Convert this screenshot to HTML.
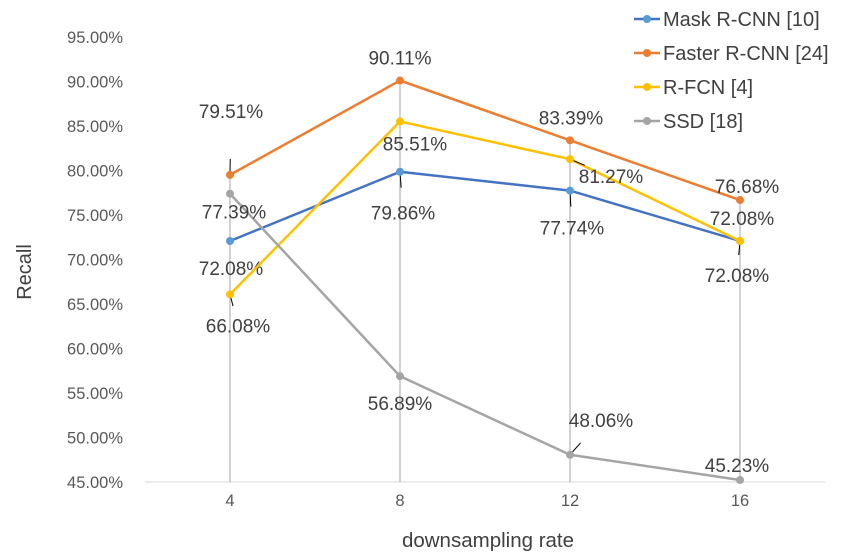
<!DOCTYPE html>
<html><head><meta charset="utf-8"><style>
body{margin:0;background:#fff}
svg{font-family:"Liberation Sans",sans-serif}
</style></head><body>
<svg width="851" height="555" id="c"></svg>
<script>
const categories=["4","8","12","16"];
const yTicks=[45,50,55,60,65,70,75,80,85,90,95];
const seriesNames=["Mask R-CNN [10]","Faster R-CNN [24]","R-FCN [4]","SSD [18]"];
const maskVals=[72.08,79.86,77.74,72.08];
const fasterVals=[79.51,90.11,83.39,76.68];
const rfcnVals=[66.08,85.51,81.27,72.08];
const ssdVals=[77.39,56.89,48.06,45.23];
const colors=["#4472c4","#ed7d31","#ffc000","#a5a5a5"];
const markColors=["#5b9bd5","#ed7d31","#ffc000","#a5a5a5"];
// label offsets (dx,dy) in px relative to points (layout, not data)
const labelOff=[
 [[1,27],[3,41],[2,37],[-3,34]],
 [[1,-64],[0,-23],[1,-23],[7,-14]],
 [[8,31],[15,22],[41,17],[2,-23]],
 [[4,18],[0,27],[31,-35],[-3,-15]]];
const all=[maskVals,fasterVals,rfcnVals,ssdVals];
const svg=document.getElementById('c');const NS="http://www.w3.org/2000/svg";
function el(t,a,p){const e=document.createElementNS(NS,t);for(const k in a)e.setAttribute(k,a[k]);(p||svg).appendChild(e);return e;}
const x0=145,x1=825,yTop=37,yBot=482;
const xs=i=>x0+(x1-x0)*(i+0.5)/categories.length;
const ys=v=>yBot-(v-45)/(95-45)*(yBot-yTop);
let g;
yTicks.forEach(t=>{g=el('text',{x:123,y:ys(t)+6,'text-anchor':'end','font-size':16.5,fill:'#595959'});g.textContent=t.toFixed(2)+'%';

});
let ax=el('line',{x1:x0,x2:x1,y1:yBot,y2:yBot,stroke:'#d9d9d9','stroke-width':1});


categories.forEach((c,i)=>{const t=el('text',{x:xs(i),y:yBot+24,'text-anchor':'middle','font-size':16.5,fill:'#595959'});t.textContent=c;


const mx=Math.max(...all.map(s=>s[i]));
const d=el('line',{x1:xs(i),x2:xs(i),y1:ys(mx),y2:yBot,stroke:'#a5a5a5','stroke-width':1});

});
let xt=el('text',{x:488,y:547,'text-anchor':'middle','font-size':20.5,fill:'#404040'});xt.textContent='downsampling rate';


let yt=el('text',{x:0,y:0,'text-anchor':'middle','font-size':20,fill:'#404040',transform:'translate(31,272) rotate(-90)'});yt.textContent='Recall';


all.forEach((s,k)=>{
const pl=el('polyline',{points:s.map((v,i)=>xs(i)+','+ys(v)).join(' '),fill:'none',stroke:colors[k],'stroke-width':2.5});


s.forEach((v,i)=>{const px=xs(i),py=ys(v);
const [dx,dy]=labelOff[k][i];
const dist=Math.hypot(dx,dy);
if(dist>30){const L=Math.min(dist-20,16);const ll=el('line',{x1:px,y1:py,x2:px+dx/dist*L,y2:py+dy/dist*L,stroke:'#000','stroke-width':1});

}
const m=el('circle',{cx:px,cy:py,r:4,fill:markColors[k]});


const t=el('text',{x:px+dx,y:py+dy+7,'text-anchor':'middle','font-size':19,fill:'#404040'});t.textContent=v.toFixed(2)+'%';

});});
seriesNames.forEach((n,k)=>{const y=19+k*34;
const l=el('line',{x1:634,x2:660,y1:y,y2:y,stroke:colors[k],'stroke-width':2.5});


const c=el('circle',{cx:647,cy:y,r:4,fill:markColors[k]});


const t=el('text',{x:663,y:y+7,'font-size':20,fill:'#404040'});t.textContent=n;

});
</script>
</body></html>
